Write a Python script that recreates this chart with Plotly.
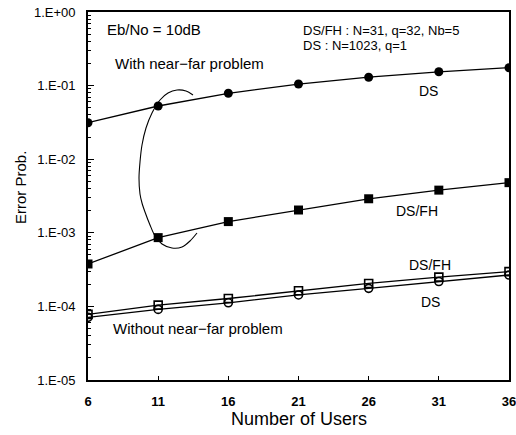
import plotly.graph_objects as go

users = [6, 11, 16, 21, 26, 31, 36]
ds_near_far = [0.0313, 0.0528, 0.0786, 0.105, 0.13, 0.154, 0.175]
dsfh_near_far = [3.77e-4, 8.6e-4, 1.42e-3, 2.04e-3, 2.9e-3, 3.8e-3, 4.8e-3]
dsfh_no_nf = [7.8e-5, 1.04e-4, 1.28e-4, 1.63e-4, 2.05e-4, 2.5e-4, 2.97e-4]
ds_no_nf = [7.1e-5, 9.1e-5, 1.12e-4, 1.43e-4, 1.76e-4, 2.18e-4, 2.67e-4]

y_tickvals = [1e-5, 1e-4, 1e-3, 1e-2, 1e-1, 1e0]
y_ticktext = ["1.E-05", "1.E-04", "1.E-03", "1.E-02", "1.E-01", "1.E+00"]

# hand-drawn loop grouping the "with near-far" curves (annotation outline, in pixel units)
loop_px = [193, 186, 177, 168, 160, 152, 146, 142, 140, 139, 140, 142, 145, 150, 155, 162, 172, 182, 190, 197]
loop_py = [95, 91, 90, 93, 100, 113, 128, 145, 162, 178, 194, 203, 212, 225, 236, 244, 248, 247, 241, 233]

FONT = "Liberation Sans, Arial, sans-serif"

# plot area in pixels
L, R, T, B = 88, 509, 12, 380


def to_x(p):
    return 6 + (p - L) / (R - L) * 30


def to_y(p):
    return 10 ** (-(p - T) / (B - T) * 5)


fig = go.Figure()

line = dict(color="black", width=1.3)
fig.add_trace(go.Scatter(x=users, y=ds_near_far, mode="lines+markers", line=line,
                         marker=dict(symbol="circle", size=9, color="black")))
fig.add_trace(go.Scatter(x=users, y=dsfh_near_far, mode="lines+markers", line=line,
                         marker=dict(symbol="square", size=9, color="black")))
fig.add_trace(go.Scatter(x=users, y=dsfh_no_nf, mode="lines+markers", line=line,
                         marker=dict(symbol="square-open", size=8, color="black",
                                     line=dict(width=1.6))))
fig.add_trace(go.Scatter(x=users, y=ds_no_nf, mode="lines+markers", line=line,
                         marker=dict(symbol="circle-open", size=8, color="black",
                                     line=dict(width=1.6))))
fig.add_trace(go.Scatter(x=[to_x(p) for p in loop_px], y=[to_y(p) for p in loop_py],
                         mode="lines",
                         line=dict(color="black", width=1.1, shape="spline", smoothing=0.8),
                         hoverinfo="skip"))

minor_vals = [m * 10 ** e for e in range(-5, 0) for m in range(2, 10)]

fig.update_layout(
    width=516, height=435, autosize=False,
    margin=dict(l=L, r=516 - R, t=T, b=435 - B, autoexpand=False),
    paper_bgcolor="white", plot_bgcolor="white",
    showlegend=False,
    font=dict(family=FONT, color="black"),
    xaxis=dict(
        range=[6, 36], tickvals=users, ticktext=[f"<b>{u}</b>" for u in users],
        ticks="inside", ticklen=4, tickwidth=1, tickcolor="black",
        ticklabelstandoff=8, ticklabeloverflow="allow",
        showgrid=False, zeroline=False,
        showline=True, linecolor="black", linewidth=1.8, mirror=True,
        tickfont=dict(size=13, family=FONT),
        automargin=False,
    ),
    yaxis=dict(
        type="log", range=[-5, 0],
        tickvals=y_tickvals, ticktext=y_ticktext,
        ticks="inside", ticklen=6, tickwidth=1, tickcolor="black",
        ticklabelstandoff=8, ticklabeloverflow="allow",
        minor=dict(tickvals=minor_vals, ticks="inside", ticklen=3, tickcolor="black"),
        showgrid=False, zeroline=False,
        showline=True, linecolor="black", linewidth=1.8, mirror=True,
        tickfont=dict(size=13, family=FONT),
        automargin=False,
    ),
)


def note(text, x, y, anchor="left", size=14, angle=0):
    fig.add_annotation(text=text, x=(x - L) / (R - L), y=1 - (y - T) / (B - T),
                       xref="paper", yref="paper", textangle=angle,
                       xanchor=anchor, yanchor="middle", showarrow=False,
                       font=dict(size=size, family=FONT, color="black"))


note("Eb/No = 10dB", 105, 29, size=15)
note("With near\u2212far problem", 113, 64, size=15)
note("DS/FH : N=31, q=32, Nb=5", 301, 30, size=13)
note("DS : N=1023, q=1", 301, 45, size=13)
note("DS", 428, 91, anchor="center")
note("DS/FH", 417, 211, anchor="center")
note("DS/FH", 430, 265, anchor="center")
note("DS", 430, 302, anchor="center")
note("Without near\u2212far problem", 111, 328, size=15)
note("Number of Users", 299, 419, anchor="center", size=18)
note("Error Prob.", 20, 188, anchor="center", size=15, angle=-90)

fig.write_html("out.html")
